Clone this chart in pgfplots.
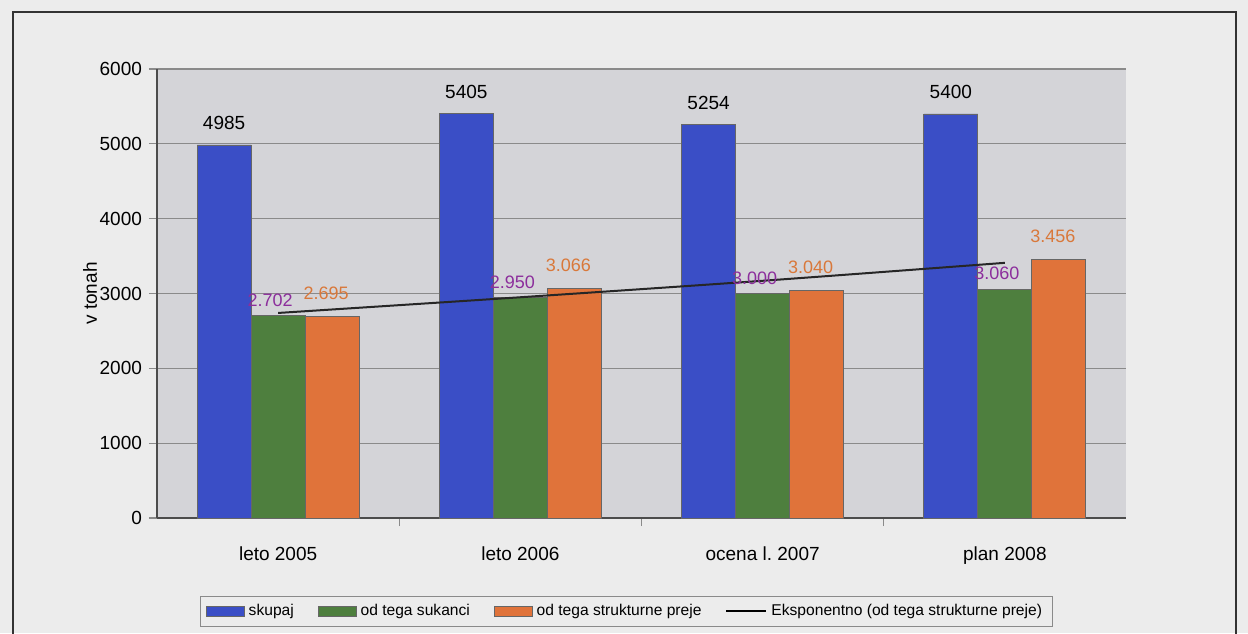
\documentclass[border=0pt]{standalone}
\usepackage{fontspec}
\setmainfont{Liberation Sans}
\usepackage{pgfplots}
\pgfplotsset{compat=1.18}
\definecolor{outerbg}{HTML}{ECECEC}
\definecolor{plotbg}{HTML}{D4D4D8}
\definecolor{cblue}{HTML}{3A4EC6}
\definecolor{cgreen}{HTML}{4E7F3E}
\definecolor{corange}{HTML}{E0733A}
\definecolor{lpurple}{HTML}{8C2E9C}
\definecolor{lorange}{HTML}{D9783A}
\definecolor{gridc}{HTML}{8A8A8A}
\begin{document}
\begin{tikzpicture}
\useasboundingbox (0,0) rectangle (624pt,316.5pt);
\fill[outerbg] (0,0) rectangle (624pt,316.5pt);
\draw[black!80, line width=1pt] (6.5pt,-5pt) rectangle (618pt,310.5pt);
\begin{axis}[
  at={(78.5pt,57.5pt)}, anchor=south west,
  scale only axis, width=484.5pt, height=224.5pt,
  xmin=-0.5, xmax=3.5, ymin=0, ymax=6000,
  ytick={0,1000,...,6000},
  xtick={0,1,2,3},
  xticklabels={leto 2005,leto 2006,ocena l.\ 2007,plan 2008},
  minor xtick={0.5,1.5,2.5},
  major x tick style={draw=none},
  minor tick length=4pt,
  major tick length=4pt,
  tick align=outside,
  tick style={gridc, line width=0.6pt},
  xtick pos=bottom, ytick pos=left,
  axis background/.style={fill=plotbg},
  ymajorgrids, grid style={gridc, line width=0.6pt},
  axis x line*=bottom, axis y line*=left,
  axis line style={black!70, line width=0.6pt},
  /pgf/number format/assume math mode=true,
  scaled y ticks=false,
  yticklabel style={/pgf/number format/1000 sep={}},
  tick label style={font=\fontsize{9.5}{11}\selectfont},
  xticklabel style={yshift=-7pt},
  ylabel={v tonah},
  ylabel style={at={(axis description cs:-0.069,0.5)}, anchor=center, font=\fontsize{9.5}{11}\selectfont},
  legend columns=4,
  legend style={at={(0.484,-0.208)}, anchor=center, fill=outerbg, draw=gridc,
    font=\fontsize{7.8}{9}\selectfont, /tikz/every even column/.append style={column sep=10pt},
    inner xsep=3pt, inner ysep=2pt},
  legend cell align=left,
  clip=false,
]
\pgfplotsset{barleg/.style={legend image code/.code={\draw[##1] (0pt,-2.5pt) rectangle (19pt,2.5pt);}}}
\addplot[ybar, bar width=27pt, bar shift=-27pt, fill=cblue, draw=black!60, barleg,
  nodes near coords, point meta=explicit symbolic,
  every node near coord/.style={black, font=\fontsize{9.5}{11}\selectfont, anchor=south, yshift=4pt, xshift=-27pt}]
  coordinates {(0,4985)[4985] (1,5405)[5405] (2,5254)[5254] (3,5400)[5400]};
\addlegendentry{skupaj}
\addplot[ybar, bar width=27pt, bar shift=0pt, fill=cgreen, draw=black!60, barleg,
  nodes near coords, point meta=explicit symbolic,
  every node near coord/.style={lpurple, font=\fontsize{9}{11}\selectfont, anchor=south, yshift=1pt, xshift=-4pt}]
  coordinates {(0,2702)[2.702] (1,2950)[2.950] (2,3000)[3.000] (3,3060)[3.060]};
\addlegendentry{od tega sukanci}
\addplot[ybar, bar width=27pt, bar shift=27pt, fill=corange, draw=black!60, barleg,
  nodes near coords, point meta=explicit symbolic,
  every node near coord/.style={lorange, font=\fontsize{9}{11}\selectfont, anchor=south, yshift=5pt, xshift=24pt}]
  coordinates {(0,2695)[2.695] (1,3066)[3.066] (2,3040)[3.040] (3,3456)[3.456]};
\addlegendentry{od tega strukturne preje}
\addplot[sharp plot, smooth, black!85, line width=1pt, mark=none,
  legend image code/.code={\draw[black, line width=1pt] (0pt,0pt) -- (20pt,0pt);}]
  coordinates {(0,2740) (1,2950) (2,3170) (3,3410)};
\addlegendentry{Eksponentno (od tega strukturne preje)}
\end{axis}
\end{tikzpicture}
\end{document}
